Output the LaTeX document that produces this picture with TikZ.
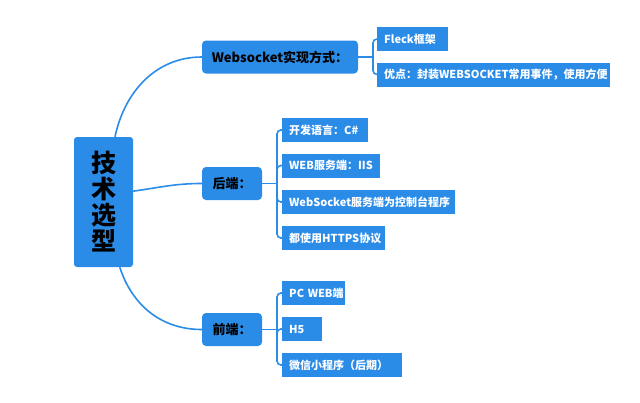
\documentclass[tikz,border=0pt]{standalone}
\usepackage{fontspec}
\setmainfont{Noto Sans CJK SC}
\definecolor{mmblue}{RGB}{43,140,232}
\begin{document}
\begin{tikzpicture}[x=1pt,y=-1pt,
  conn/.style={draw=mmblue,line width=1.6pt},
  rootbox/.style={fill=mmblue,rounded corners=3pt,minimum width=59pt,minimum height=130pt,inner sep=0pt,font=\fontsize{25}{26}\selectfont\bfseries,align=center},
  mainbox/.style={fill=mmblue,rounded corners=4pt,minimum height=33pt,inner sep=0pt,font=\fontsize{13}{15}\selectfont\bfseries,text=black},
  leafbox/.style={fill=mmblue,minimum height=24pt,inner ysep=0pt,inner xsep=7pt,anchor=west,font=\fontsize{11}{13}\selectfont\bfseries,text=white,align=left},
  br/.style={conn,rounded corners=4pt}]
\useasboundingbox (0,0) rectangle (640,402);
% root
\node[rootbox] (root) at (103.5,202) {技\\术\\选\\型};
% main nodes
\node[mainbox,minimum width=156pt] (ws) at (280,57) {Websocket实现方式：};
\node[mainbox,minimum width=60pt] (hd) at (232,183.5) {后端：};
\node[mainbox,minimum width=60pt] (qd) at (232,329.5) {前端：};
% leaves
\node[leafbox,text width=57pt] (l1) at (377,39) {\mbox{Fleck框架}};
\node[leafbox,text width=219pt] (l2) at (377,74.5) {\mbox{优点：封装WEBSOCKET常用事件，使用方便}};
\node[leafbox,text width=72pt] (b1) at (282,130) {\mbox{开发语言：C\#}};
\node[leafbox,text width=84pt] (b2) at (282,165.5) {\mbox{WEB服务端：IIS}};
\node[leafbox,text width=159pt] (b3) at (282,202) {\mbox{WebSocket服务端为控制台程序}};
\node[leafbox,text width=89pt] (b4) at (282,238) {\mbox{都使用HTTPS协议}};
\node[leafbox,text width=49pt] (f1) at (282,293) {\mbox{PC WEB端}};
\node[leafbox,text width=26pt] (f2) at (282,329) {\mbox{H5}};
\node[leafbox,text width=106pt] (f3) at (282,365) {\mbox{微信小程序（后期）}};
% curves from root
\draw[conn] (root.80) to[out=78,in=180] (ws.west);
\draw[conn] (root.20) to[out=8,in=180] (hd.west);
\draw[conn] (root.-76) to[out=-72,in=180] (qd.west);
% brackets
\coordinate (wsb) at (373,57);
\coordinate (hdb) at (277,183.5);
\coordinate (qdb) at (277,329.5);
\draw[conn] (ws.east) -- (wsb);
\draw[br] (wsb) |- (l1.west);
\draw[br] (wsb) |- (l2.west);
\draw[conn] (hd.east) -- (hdb);
\draw[br] (hdb) |- (b1.west);
\draw[br] (hdb) |- (b2.west);
\draw[br] (hdb) |- (b3.west);
\draw[br] (hdb) |- (b4.west);
\draw[conn] (qd.east) -- (qdb);
\draw[br] (qdb) |- (f1.west);
\draw[br] (qdb) |- (f2.west);
\draw[br] (qdb) |- (f3.west);
\end{tikzpicture}
\end{document}
